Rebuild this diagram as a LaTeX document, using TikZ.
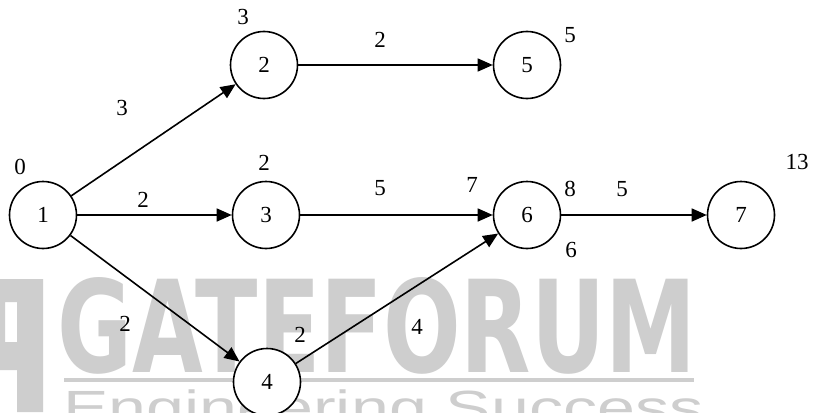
\documentclass[tikz,border=0pt]{standalone}
\usepackage{fontspec}
\setmainfont{Liberation Serif}
\newfontfamily\wmfont{Liberation Sans}
\newfontfamily\wmbold{DejaVu Sans}
\usetikzlibrary{arrows.meta}
\definecolor{wmgray}{RGB}{206,206,206}
\tikzset{
	ev/.style={circle,draw,fill=white,line width=1.6pt,minimum size=67pt,inner sep=0pt},
	act/.style={-{Triangle[length=15pt,width=13pt]},line width=1.6pt},
	lbl/.style={inner sep=0pt}
}
\begin{document}
\begin{tikzpicture}[x=1pt,y=-1pt,line join=round,font=\fontsize{23}{23}\selectfont]
	\clip (0,0) rectangle (813,412);
	\fill[white] (0,0) rectangle (813,412);
	% watermark
	\begin{scope}[wmgray]
		\fill[even odd rule] (0,279)--(43,279)--(43,412)--(17,412)--(17,370)--(0,370)--cycle
		(5,302) rectangle (17,342);
		\node[lbl,anchor=base west] (wm) at (57,372) {\wmbold\bfseries\fontsize{128}{128}\selectfont\scalebox{0.714}[1]{GATEFORUM}};
		\fill (64,378) rectangle (694,382);
		\node[lbl,anchor=base west] (wmsub) at (63,424) {\wmfont\fontsize{48}{48}\selectfont\scalebox{1.42}[1]{Engineering Success}};
	\end{scope}
	% events
	\node[ev] (n1) at (43,215) {1};
	\node[ev] (n2) at (264,65) {2};
	\node[ev] (n3) at (266,215) {3};
	\node[ev] (n4) at (267,382) {4};
	\node[ev] (n5) at (527,65) {5};
	\node[ev] (n6) at (527,215) {6};
	\node[ev] (n7) at (741,215) {7};
	% activities
	\draw[act] (n1)--(n2);
	\draw[act] (n1)--(n3);
	\draw[act] (n1)--(n4);
	\draw[act] (n2)--(n5);
	\draw[act] (n3)--(n6);
	\draw[act] (n4)--(n6);
	\draw[act] (n6)--(n7);
	% durations
	\node[lbl] (d12) at (122,108) {3};
	\node[lbl] (d13) at (143,200) {2};
	\node[lbl] (d14) at (125,324) {2};
	\node[lbl] (d25) at (380,40) {2};
	\node[lbl] (d36) at (380,188) {5};
	\node[lbl] (d46) at (417,327) {4};
	\node[lbl] (d67) at (622,189) {5};
	% event times
	\node[lbl] (t1) at (20,167) {0};
	\node[lbl] (t2) at (243,17) {3};
	\node[lbl] (t3) at (264,163) {2};
	\node[lbl] (t4) at (300,335) {2};
	\node[lbl] (t5) at (570,35) {5};
	\node[lbl] (t6a) at (472,185) {7};
	\node[lbl] (t6b) at (570,189) {8};
	\node[lbl] (t6c) at (571,250) {6};
	\node[lbl] (t7) at (797,162) {13};
\end{tikzpicture}
\end{document}
